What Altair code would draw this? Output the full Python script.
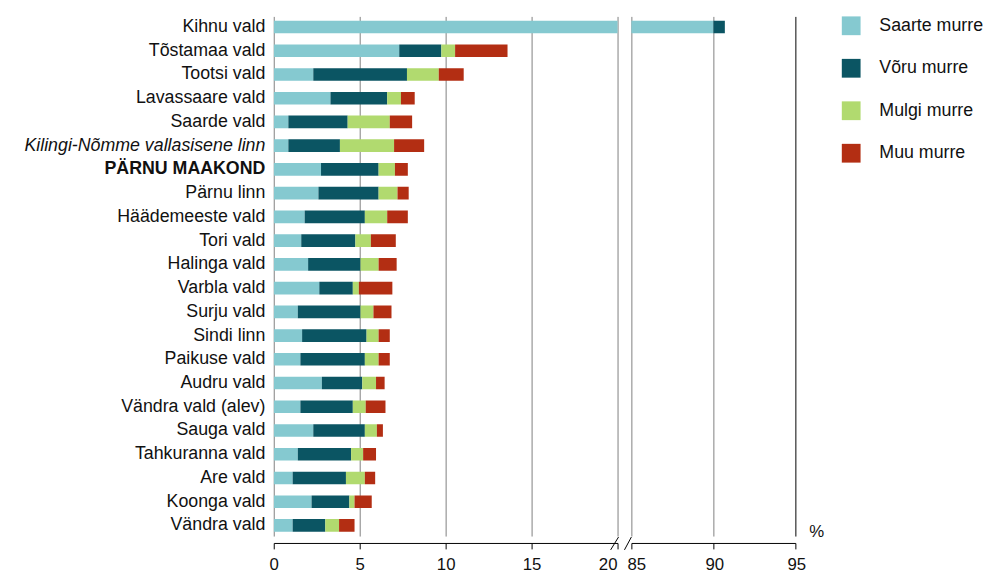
import altair as alt
import pandas as pd

categories = ["Kihnu vald", "Tõstamaa vald", "Tootsi vald", "Lavassaare vald", "Saarde vald",
              "Kilingi-Nõmme vallasisene linn", "PÄRNU MAAKOND", "Pärnu linn", "Häädemeeste vald",
              "Tori vald", "Halinga vald", "Varbla vald", "Surju vald", "Sindi linn", "Paikuse vald",
              "Audru vald", "Vändra vald (alev)", "Sauga vald", "Tahkuranna vald", "Are vald",
              "Koonga vald", "Vändra vald"]

saarte = [90.0, 7.3, 2.3, 3.3, 0.85, 0.85, 2.75, 2.6, 1.8, 1.6, 2.0, 2.65, 1.4, 1.65, 1.55, 2.8, 1.55, 2.3, 1.4, 1.1, 2.2, 1.1]
voru = [0.7, 2.45, 5.45, 3.3, 3.45, 3.0, 3.35, 3.5, 3.5, 3.15, 3.05, 1.95, 3.65, 3.75, 3.75, 2.35, 3.05, 3.0, 3.1, 3.1, 2.2, 1.9]
mulgi = [0.0, 0.8, 1.85, 0.8, 2.45, 3.15, 0.95, 1.1, 1.3, 0.9, 1.05, 0.35, 0.75, 0.7, 0.8, 0.8, 0.75, 0.7, 0.7, 1.1, 0.3, 0.8]
muu = [0.0, 3.05, 1.45, 0.8, 1.3, 1.75, 0.75, 0.65, 1.2, 1.45, 1.05, 1.95, 1.05, 0.65, 0.65, 0.5, 1.15, 0.35, 0.75, 0.6, 1.0, 0.9]

dialects = ["Saarte murre", "Võru murre", "Mulgi murre", "Muu murre"]
colors = ["#85C9D0", "#0B5563", "#B1DA6F", "#B32E13"]

left_ticks = [0, 5, 10, 15, 20]
right_ticks = [85, 90, 95]

rows = []
for i, c in enumerate(categories):
    for j, (d, vals) in enumerate(zip(dialects, [saarte, voru, mulgi, muu])):
        rows.append({"omavalitsus": c, "murre": d, "order": j, "value": vals[i]})
df = pd.DataFrame(rows)

FONT = "Liberation Sans"
FS = 18
TFS = 17
W1, W2, H = 348, 166, 526
TXT = "#111111"

y_scale = alt.Scale(paddingInner=0.467, paddingOuter=0.18)
color_enc = alt.Color(
    "murre:N",
    scale=alt.Scale(domain=dialects, range=colors),
    legend=alt.Legend(title=None, orient="right", offset=18, symbolType="square",
                      symbolSize=361, symbolStrokeWidth=0, labelFont=FONT, labelFontSize=FS,
                      labelColor=TXT, rowPadding=24, labelOffset=19, padding=0),
)

x_axis_common = dict(domainColor="#000000", tickColor="#000000", tickSize=6, offset=7,
                     labelFont=FONT, labelFontSize=TFS, labelColor=TXT, labelPadding=8,
                     labelFlush=False, labelOverlap=False,
                     grid=True, gridColor="#7f7f7f", gridWidth=1)

left_bars = alt.Chart(df).mark_bar(clip=True).encode(
    x=alt.X("value:Q", stack="zero",
            scale=alt.Scale(domain=[0, 20], nice=False),
            axis=alt.Axis(values=left_ticks, title=None,
                          labelOffset={"condition": {"test": "datum.value == 20", "value": -10}, "value": 0},
                          **x_axis_common)),
    y=alt.Y("omavalitsus:N", sort=categories, title=None, scale=y_scale,
            axis=alt.Axis(domain=False, ticks=False, grid=False, labelFont=FONT, labelFontSize=FS,
                          labelColor=TXT, labelPadding=9, minExtent=264, labelLimit=400,
                          labelFontWeight={"condition": {"test": "datum.value == 'PÄRNU MAAKOND'", "value": "bold"}, "value": "normal"},
                          labelFontStyle={"condition": {"test": "datum.value == 'Kilingi-Nõmme vallasisene linn'", "value": "italic"}, "value": "normal"})),
    color=color_enc,
    order=alt.Order("order:Q"),
)

brk = pd.DataFrame({"k": [0]})
left_break = alt.Chart(brk).mark_rule(color="black", strokeWidth=1).encode(
    x=alt.value(W1 - 7), x2=alt.value(W1 + 1), y=alt.value(H + 14), y2=alt.value(H + 1))

right_bars = alt.Chart(df).mark_bar(clip=True).encode(
    x=alt.X("value:Q", stack="zero",
            scale=alt.Scale(domain=[85, 95], nice=False, zero=False),
            axis=alt.Axis(values=right_ticks, title="%", titleFont=FONT, titleFontSize=TFS,
                          titleFontWeight="normal", titleColor=TXT, titleX=W2 + 21, titleY=-7,
                          titleAlign="center", titleBaseline="alphabetic", titleAngle=0,
                          labelOffset={"condition": {"test": "datum.value == 85", "value": 5}, "value": 1},
                          **{**x_axis_common,
                             "gridColor": {"condition": {"test": "datum.value == 95", "value": "#000000"}, "value": "#7f7f7f"}})),
    y=alt.Y("omavalitsus:N", sort=categories, title=None, scale=y_scale, axis=None),
    color=color_enc,
    order=alt.Order("order:Q"),
)

right_break = alt.Chart(brk).mark_rule(color="black", strokeWidth=1).encode(
    x=alt.value(-7), x2=alt.value(0), y=alt.value(H + 14), y2=alt.value(H + 1))

left = alt.layer(left_bars, left_break).properties(width=W1, height=H)
right = alt.layer(right_bars, right_break).properties(width=W2, height=H)

chart = (
    alt.hconcat(left, right, spacing=14, bounds="flush")
    .resolve_scale(x="independent", y="shared", color="shared")
    .resolve_axis(x="independent", y="independent")
    .properties(padding={"left": 5, "top": 5, "right": 5, "bottom": 5}, background="white")
    .configure_view(stroke=None)
)

chart.save("out.html", embed_options={"renderer": "svg", "actions": False})
